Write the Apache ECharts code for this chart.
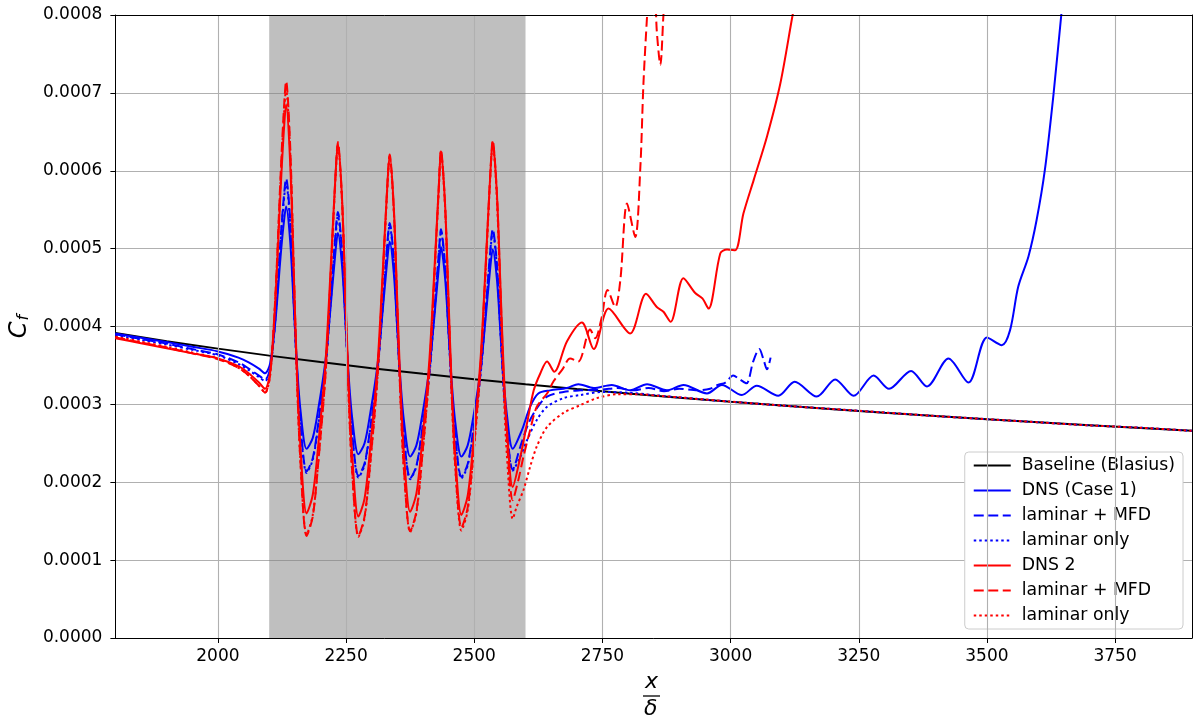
<!DOCTYPE html>
<html><head><meta charset="utf-8">
<script src="https://cdn.jsdelivr.net/npm/echarts@6/dist/echarts.min.js"></script>
<style>html,body{margin:0;padding:0;background:#fff}#c{width:1200px;height:717px}</style>
</head><body><div id="c"></div>
<script>
// all Cf values below are in units of 1e-4
const UNIT = 1e-4;
const xTickValues = [2000, 2250, 2500, 2750, 3000, 3250, 3500, 3750];
const shadeRange = [2100, 2600];

const baselineX = [1800,1900,2000,2100,2200,2300,2400,2500,2600,2700,2800,2900,3000,3100,3200,3300,3400,3500,3600,3700,3800,3900];
const baselineY = [3.917,3.812,3.716,3.626,3.543,3.465,3.392,3.324,3.259,3.198,3.141,3.086,3.034,2.985,2.938,2.893,2.850,2.809,2.770,2.732,2.696,2.661];

// shared x positions through the forcing region
const oscX = [1800,1850,1900,1950,2000,2040,2060,2080,2092,2102,2112,2122,2128,
  2133,2141,2148,2154,2161,2173,2185,2196,2210,2219,2229,
  2234,2242,2249,2255,2262,2274,2286,2297,2311,2320,2330,
  2335,2343,2350,2356,2363,2375,2387,2398,2412,2421,2431,
  2435,2443,2450,2456,2463,2475,2487,2498,2512,2521,2531,
  2536,2544,2551,2557,2564,2575];

// DNS (Case 1)
const dns1Osc = [3.91,3.855,3.80,3.74,3.68,3.60,3.54,3.46,3.40,3.53,4.06,4.88,5.30,
  5.54,5.09,4.25,3.53,2.93,2.43,2.57,2.95,3.57,4.19,4.94,
  5.20,4.79,4.02,3.37,2.82,2.36,2.50,2.88,3.49,4.10,4.83,
  5.09,4.69,3.95,3.31,2.78,2.33,2.47,2.84,3.44,4.04,4.77,
  5.02,4.63,3.91,3.29,2.77,2.33,2.47,2.83,3.43,4.02,4.74,
  4.99,4.62,3.93,3.34,2.85,2.43];
const dns1TailX = [2593,2609,2625,2648,2681,2703,2733,2768,2804,2837,2876,2908,2954,2983,3022,3051,3093,3125,3168,3204,3240,3279,3309,3352,3383,3425,3464,3500,3529,3545,3561,3581,3597,3613,3630,3645,3655];
const dns1TailY = [2.67,2.97,3.14,3.18,3.21,3.26,3.21,3.25,3.18,3.26,3.18,3.25,3.14,3.25,3.12,3.24,3.11,3.29,3.10,3.32,3.11,3.37,3.20,3.43,3.23,3.59,3.28,3.86,3.76,3.95,4.51,4.90,5.37,6.01,6.99,8.0,8.6];

// laminar + MFD (Case 1)
const mfd1Osc = [3.90,3.84,3.78,3.71,3.64,3.54,3.46,3.37,3.32,3.47,4.12,5.10,5.62,
  5.90,5.36,4.34,3.48,2.75,2.14,2.31,2.77,3.52,4.26,5.16,
  5.47,4.98,4.07,3.28,2.63,2.08,2.24,2.69,3.42,4.15,5.03,
  5.33,4.86,3.97,3.21,2.58,2.05,2.21,2.66,3.37,4.09,4.95,
  5.25,4.79,3.93,3.20,2.59,2.07,2.23,2.67,3.38,4.10,4.95,
  5.25,4.81,3.97,3.26,2.66,2.16];
const mfd1TailX = [2590,2606,2622,2642,2674,2707,2750,2780,2810,2840,2870,2900,2935,2960,2975,2990,3005,3018,3031,3044,3056,3064,3071,3078];
const mfd1TailY = [2.46,2.76,2.95,3.10,3.16,3.18,3.19,3.21,3.18,3.21,3.17,3.20,3.18,3.20,3.25,3.28,3.37,3.32,3.27,3.55,3.71,3.58,3.45,3.60];

// laminar only (Case 1)
const lam1Osc = [3.89,3.83,3.77,3.70,3.63,3.52,3.44,3.35,3.30,3.45,4.09,5.06,5.57,
  5.85,5.31,4.31,3.44,2.72,2.12,2.29,2.74,3.48,4.22,5.11,
  5.42,4.94,4.03,3.25,2.60,2.06,2.22,2.67,3.40,4.12,5.00,
  5.30,4.83,3.95,3.20,2.57,2.04,2.20,2.64,3.35,4.07,4.92,
  5.22,4.76,3.91,3.18,2.56,2.05,2.21,2.65,3.36,4.07,4.92,
  5.22,4.78,3.95,3.24,2.65,2.15];
const lam1TailX = [2588,2603,2622,2642,2674,2707,2750,2800,2850,2900,3000,3100,3200,3300,3400,3500,3600,3700,3800,3900];
const lam1TailY = [2.30,2.54,2.80,2.97,3.08,3.12,3.16,3.15,3.12,3.09,3.035,2.985,2.94,2.895,2.85,2.81,2.77,2.73,2.70,2.66];

// DNS 2
const dns2Osc = [3.85,3.785,3.72,3.655,3.59,3.49,3.40,3.28,3.20,3.42,4.33,5.72,6.45,
  6.85,6.09,4.68,3.46,2.45,1.60,1.84,2.50,3.56,4.63,5.90,
  6.35,5.66,4.37,3.26,2.34,1.56,1.79,2.44,3.48,4.52,5.76,
  6.20,5.54,4.30,3.25,2.36,1.62,1.85,2.50,3.53,4.57,5.82,
  6.25,5.58,4.32,3.24,2.34,1.58,1.82,2.49,3.56,4.63,5.92,
  6.37,5.73,4.54,3.51,2.66,1.94];
const dns2TailX = [2590,2603,2616,2629,2642,2656,2681,2710,2733,2762,2804,2835,2856,2869,2883,2908,2931,2945,2957,2980,2993,3009,3025,3045,3071,3097,3121,3130];
const dns2TailY = [2.33,2.76,3.18,3.40,3.55,3.42,3.81,4.05,3.71,4.23,3.91,4.42,4.25,4.19,4.06,4.62,4.43,4.36,4.23,4.94,4.99,4.98,5.45,5.88,6.44,7.12,8.0,8.3];

// laminar + MFD (Case 2)
const mfd2Osc = [3.86,3.795,3.73,3.655,3.58,3.47,3.37,3.24,3.15,3.39,4.39,5.91,6.71,
  7.15,6.31,4.73,3.38,2.26,1.31,1.56,2.27,3.40,4.53,5.89,
  6.37,5.64,4.28,3.11,2.13,1.31,1.56,2.24,3.33,4.43,5.75,
  6.21,5.51,4.21,3.09,2.15,1.37,1.62,2.30,3.39,4.49,5.81,
  6.27,5.57,4.26,3.14,2.21,1.42,1.67,2.36,3.47,4.59,5.92,
  6.39,5.73,4.48,3.41,2.52,1.77];
const mfd2TailX = [2586,2596,2609,2622,2642,2655,2672,2687,2703,2726,2736,2748,2760,2775,2785,2798,2814,2824,2830,2837,2843,2850,2856,2863,2869,2875];
const mfd2TailY = [2.03,2.33,2.67,2.97,3.14,3.30,3.45,3.59,3.55,3.96,3.85,4.10,4.47,4.25,4.60,5.58,5.15,6.05,7.12,7.98,8.6,8.6,7.8,7.36,8.0,8.6];

// laminar only (Case 2)
const lam2Osc = [3.87,3.805,3.74,3.665,3.59,3.47,3.37,3.24,3.15,3.38,4.36,5.84,6.62,
  7.05,6.23,4.68,3.36,2.26,1.33,1.58,2.28,3.40,4.52,5.86,
  6.33,5.61,4.25,3.09,2.12,1.30,1.54,2.22,3.32,4.41,5.72,
  6.18,5.49,4.19,3.07,2.14,1.36,1.60,2.28,3.38,4.47,5.78,
  6.24,5.54,4.23,3.11,2.17,1.38,1.63,2.32,3.43,4.55,5.88,
  6.35,5.66,4.36,3.24,2.31,1.53];
const lam2TailX = [2583,2596,2609,2622,2642,2674,2707,2739,2780,2820,2860,2900,3000,3100,3200,3300,3400,3500,3600,3700,3800,3900];
const lam2TailY = [1.69,1.90,2.20,2.46,2.71,2.89,2.99,3.08,3.13,3.13,3.11,3.09,3.035,2.985,2.94,2.895,2.85,2.81,2.77,2.73,2.70,2.66];

const seriesNames = ['Baseline (Blasius)', 'DNS (Case 1)', 'laminar + MFD', 'laminar only',
  'DNS 2', 'laminar + MFD\u200b', 'laminar only\u200b'];

function pairs(xs, ys) { return xs.map((x, i) => [x, ys[i] * UNIT]); }

const DASH = [10, 4.5], DOT = [2.5, 3];
const defs = [
  { x: baselineX, y: baselineY, color: '#000000', type: 'solid' },
  { x: oscX.concat(dns1TailX), y: dns1Osc.concat(dns1TailY), color: '#0000ff', type: 'solid' },
  { x: oscX.concat(mfd1TailX), y: mfd1Osc.concat(mfd1TailY), color: '#0000ff', type: DASH },
  { x: oscX.concat(lam1TailX), y: lam1Osc.concat(lam1TailY), color: '#0000ff', type: DOT },
  { x: oscX.concat(dns2TailX), y: dns2Osc.concat(dns2TailY), color: '#ff0000', type: 'solid' },
  { x: oscX.concat(mfd2TailX), y: mfd2Osc.concat(mfd2TailY), color: '#ff0000', type: DASH },
  { x: oscX.concat(lam2TailX), y: lam2Osc.concat(lam2TailY), color: '#ff0000', type: DOT }
];

const FONT = 'DejaVu Sans';
const series = [
  { name: '_grid', type: 'line', data: [], z: 0, silent: true,
    markLine: { silent: true, animation: false, symbol: ['none', 'none'], label: { show: false },
      lineStyle: { color: '#b0b0b0', width: 1.1, type: 'solid' },
      data: xTickValues.map(v => ({ xAxis: v })) } },
  { name: '_shade', type: 'line', data: [], z: 1, silent: true,
    markArea: { silent: true, animation: false, itemStyle: { color: 'rgba(128,128,128,0.5)' },
      data: [[{ xAxis: shadeRange[0] }, { xAxis: shadeRange[1] }]] } }
].concat(defs.map((d, i) => ({
  name: seriesNames[i], type: 'line', data: pairs(d.x, d.y), z: 2,
  symbol: 'none', showSymbol: false, smooth: i === 0 ? false : 0.3, clip: true,
  lineStyle: { color: d.color, width: 2, type: d.type },
  itemStyle: { color: d.color }
})));

const chart = echarts.init(document.getElementById('c'), null, { renderer: 'canvas' });
chart.setOption({
  animation: false,
  backgroundColor: '#ffffff',
  textStyle: { fontFamily: FONT },
  grid: { left: 115, right: 8, top: 15, bottom: 79, containLabel: false },
  xAxis: [
    { type: 'value', min: 1800, max: 3900, position: 'bottom', z: 5,
      axisLine: { show: true, onZero: false, lineStyle: { color: '#000', width: 1 } },
      axisTick: { show: true, length: 5, customValues: xTickValues, lineStyle: { color: '#000', width: 1 } },
      axisLabel: { customValues: xTickValues, formatter: v => String(v), fontSize: 17, color: '#000', margin: 10, fontFamily: FONT },
      splitLine: { show: false } },
    { type: 'value', min: 1800, max: 3900, position: 'top', z: 5,
      axisLine: { show: true, onZero: false, lineStyle: { color: '#000', width: 1 } },
      axisTick: { show: false }, axisLabel: { show: false }, splitLine: { show: false } }
  ],
  yAxis: [
    { type: 'value', min: 0, max: 0.0008, interval: 0.0001,
      axisLine: { show: true, onZero: false, lineStyle: { color: '#000', width: 1 } },
      axisTick: { show: true, length: 5, lineStyle: { color: '#000', width: 1 } },
      axisLabel: { formatter: v => v.toFixed(4), fontSize: 17, color: '#000', margin: 13, fontFamily: FONT },
      splitLine: { show: true, lineStyle: { color: '#b0b0b0', width: 1.1 } },
      name: '{c|C}{f|f}', nameLocation: 'middle', nameRotate: 90, nameGap: 82,
      nameTextStyle: { rich: {
        c: { fontSize: 24, fontStyle: 'italic', fontFamily: FONT, color: '#000', verticalAlign: 'bottom' },
        f: { fontSize: 16, fontStyle: 'italic', fontFamily: FONT, color: '#000', verticalAlign: 'bottom', padding: [12, 0, 0, 1] }
      } } },
    { type: 'value', min: 0, max: 0.0008, position: 'right', z: 5,
      axisLine: { show: true, onZero: false, lineStyle: { color: '#000', width: 1 } },
      axisTick: { show: false }, axisLabel: { show: false }, splitLine: { show: false } }
  ],
  legend: {
    data: seriesNames, orient: 'vertical', right: 17, bottom: 88,
    backgroundColor: '#ffffff', borderColor: '#cccccc', borderWidth: 1, borderRadius: 4,
    padding: [5, 8, 5, 8], itemGap: 8, itemWidth: 37, itemHeight: 16, selectedMode: false,
    itemStyle: { opacity: 0 },
    textStyle: { fontSize: 17.3, color: '#000', fontFamily: FONT, padding: [0, 0, 0, 6] }
  },
  graphic: [
    { type: 'text', left: 645, top: 671, style: { text: 'x', font: 'italic 22px "DejaVu Sans"', fill: '#000' } },
    { type: 'line', shape: { x1: 643, y1: 696, x2: 660, y2: 696 }, style: { stroke: '#000', lineWidth: 1.3 } },
    { type: 'text', left: 644, top: 698, style: { text: 'δ', font: 'italic 22px "DejaVu Sans"', fill: '#000' } }
  ],
  series: series
});
</script></body></html>
